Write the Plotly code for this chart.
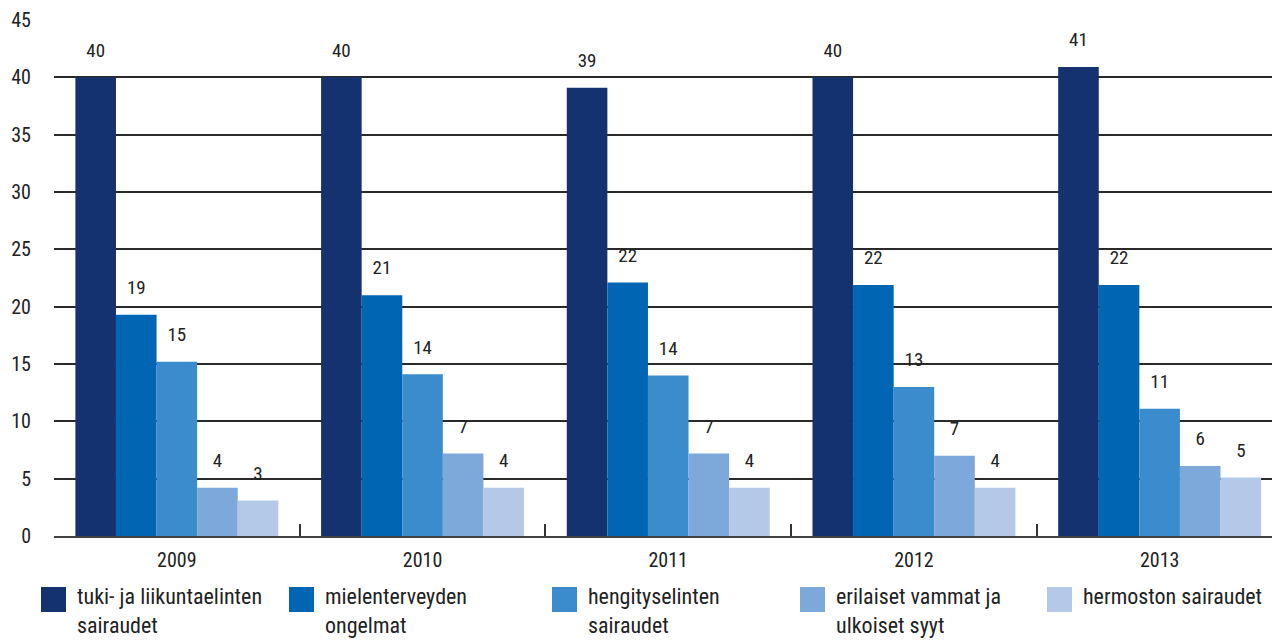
import plotly.graph_objects as go

# ---- data ----
years = ["2009", "2010", "2011", "2012", "2013"]
series_names = [
    "tuki- ja liikuntaelinten<br>sairaudet",
    "mielenterveyden<br>ongelmat",
    "hengityselinten<br>sairaudet",
    "erilaiset vammat ja<br>ulkoiset syyt",
    "hermoston sairaudet",
]
tuki = [40.0, 40.0, 39.1, 40.0, 40.9]
mielenterveys = [19.3, 21.0, 22.1, 21.9, 21.9]
hengitys = [15.2, 14.1, 14.0, 13.0, 11.1]
vammat = [4.2, 7.2, 7.2, 7.0, 6.1]
hermosto = [3.1, 4.2, 4.2, 4.2, 5.1]
series_values = [tuki, mielenterveys, hengitys, vammat, hermosto]
y_ticks = [0, 5, 10, 15, 20, 25, 30, 35, 40, 45]

# ---- style ----
colors = ["#143270", "#0066B3", "#3A8CCD", "#7DA9DA", "#B4C9E8"]
FONT = "Liberation Sans Narrow, Roboto Condensed, Arial Narrow, DejaVu Sans Condensed, sans-serif"
TXT = "#222222"
W, H = 1272, 642
ML, MR, MT, MB = 54, 0, 20, 106
BARGAP = 0.174
legend_px_x = [41, 289, 552, 800, 1047]
legend_px_y = 587
sq = 25

fig = go.Figure()
for name, vals, col in zip(series_names, series_values, colors):
    fig.add_trace(go.Bar(
        x=years, y=vals, name=name, marker=dict(color=col, line=dict(width=0)),
        showlegend=False, hoverinfo="x+y",
    ))
for name, vals in zip(series_names, series_values):
    fig.add_trace(go.Scatter(
        x=years, y=vals, mode="markers+text",
        text=[str(int(round(v))) for v in vals],
        textposition="top center",
        textfont=dict(family=FONT, size=19, color=TXT),
        marker=dict(size=24, opacity=0),
        showlegend=False, hoverinfo="skip",
    ))

pw = W - ML - MR
ph = H - MT - MB

def px_x(p):
    return (p - ML) / pw

def px_y(p):
    return (H - MB - p) / ph

shapes = []
annotations = []
for i, (name, col) in enumerate(zip(series_names, colors)):
    x0 = legend_px_x[i]
    shapes.append(dict(type="rect", xref="paper", yref="paper",
                       x0=px_x(x0), x1=px_x(x0 + sq),
                       y0=px_y(legend_px_y), y1=px_y(legend_px_y + sq),
                       fillcolor=col, line=dict(width=0), layer="above"))
    annotations.append(dict(xref="paper", yref="paper", x=px_x(x0 + sq + 9), y=px_y(legend_px_y - 5),
                            xanchor="left", yanchor="top", align="left", showarrow=False,
                            text=name, font=dict(family=FONT, size=22, color=TXT)))

cat_px = 245.7
x_right = -0.5 + pw / cat_px

fig.update_layout(
    width=W, height=H,
    margin=dict(l=ML, r=MR, t=MT, b=MB, pad=0),
    paper_bgcolor="white", plot_bgcolor="white",
    barmode="group", bargap=BARGAP, bargroupgap=0,
    scattermode="group", scattergap=BARGAP,
    font=dict(family=FONT, size=20, color=TXT),
    showlegend=False,
    shapes=shapes, annotations=annotations,
    xaxis=dict(
        type="category", range=[-0.5, x_right],
        showgrid=False, zeroline=False,
        showline=True, linecolor="#444444", linewidth=2,
        ticks="inside", tickson="boundaries", ticklen=12, tickwidth=1.5, tickcolor="#333333",
        tickfont=dict(family=FONT, size=20, color=TXT),
        ticklabelstandoff=5,
    ),
    yaxis=dict(
        range=[0, 45], tickvals=y_ticks,
        showgrid=True, gridcolor="#2a2a2a", gridwidth=1.5,
        zeroline=False, showline=False, ticks="",
        tickfont=dict(family=FONT, size=20, color=TXT),
        ticklabelstandoff=22,
    ),
)

fig.write_html("out.html")
